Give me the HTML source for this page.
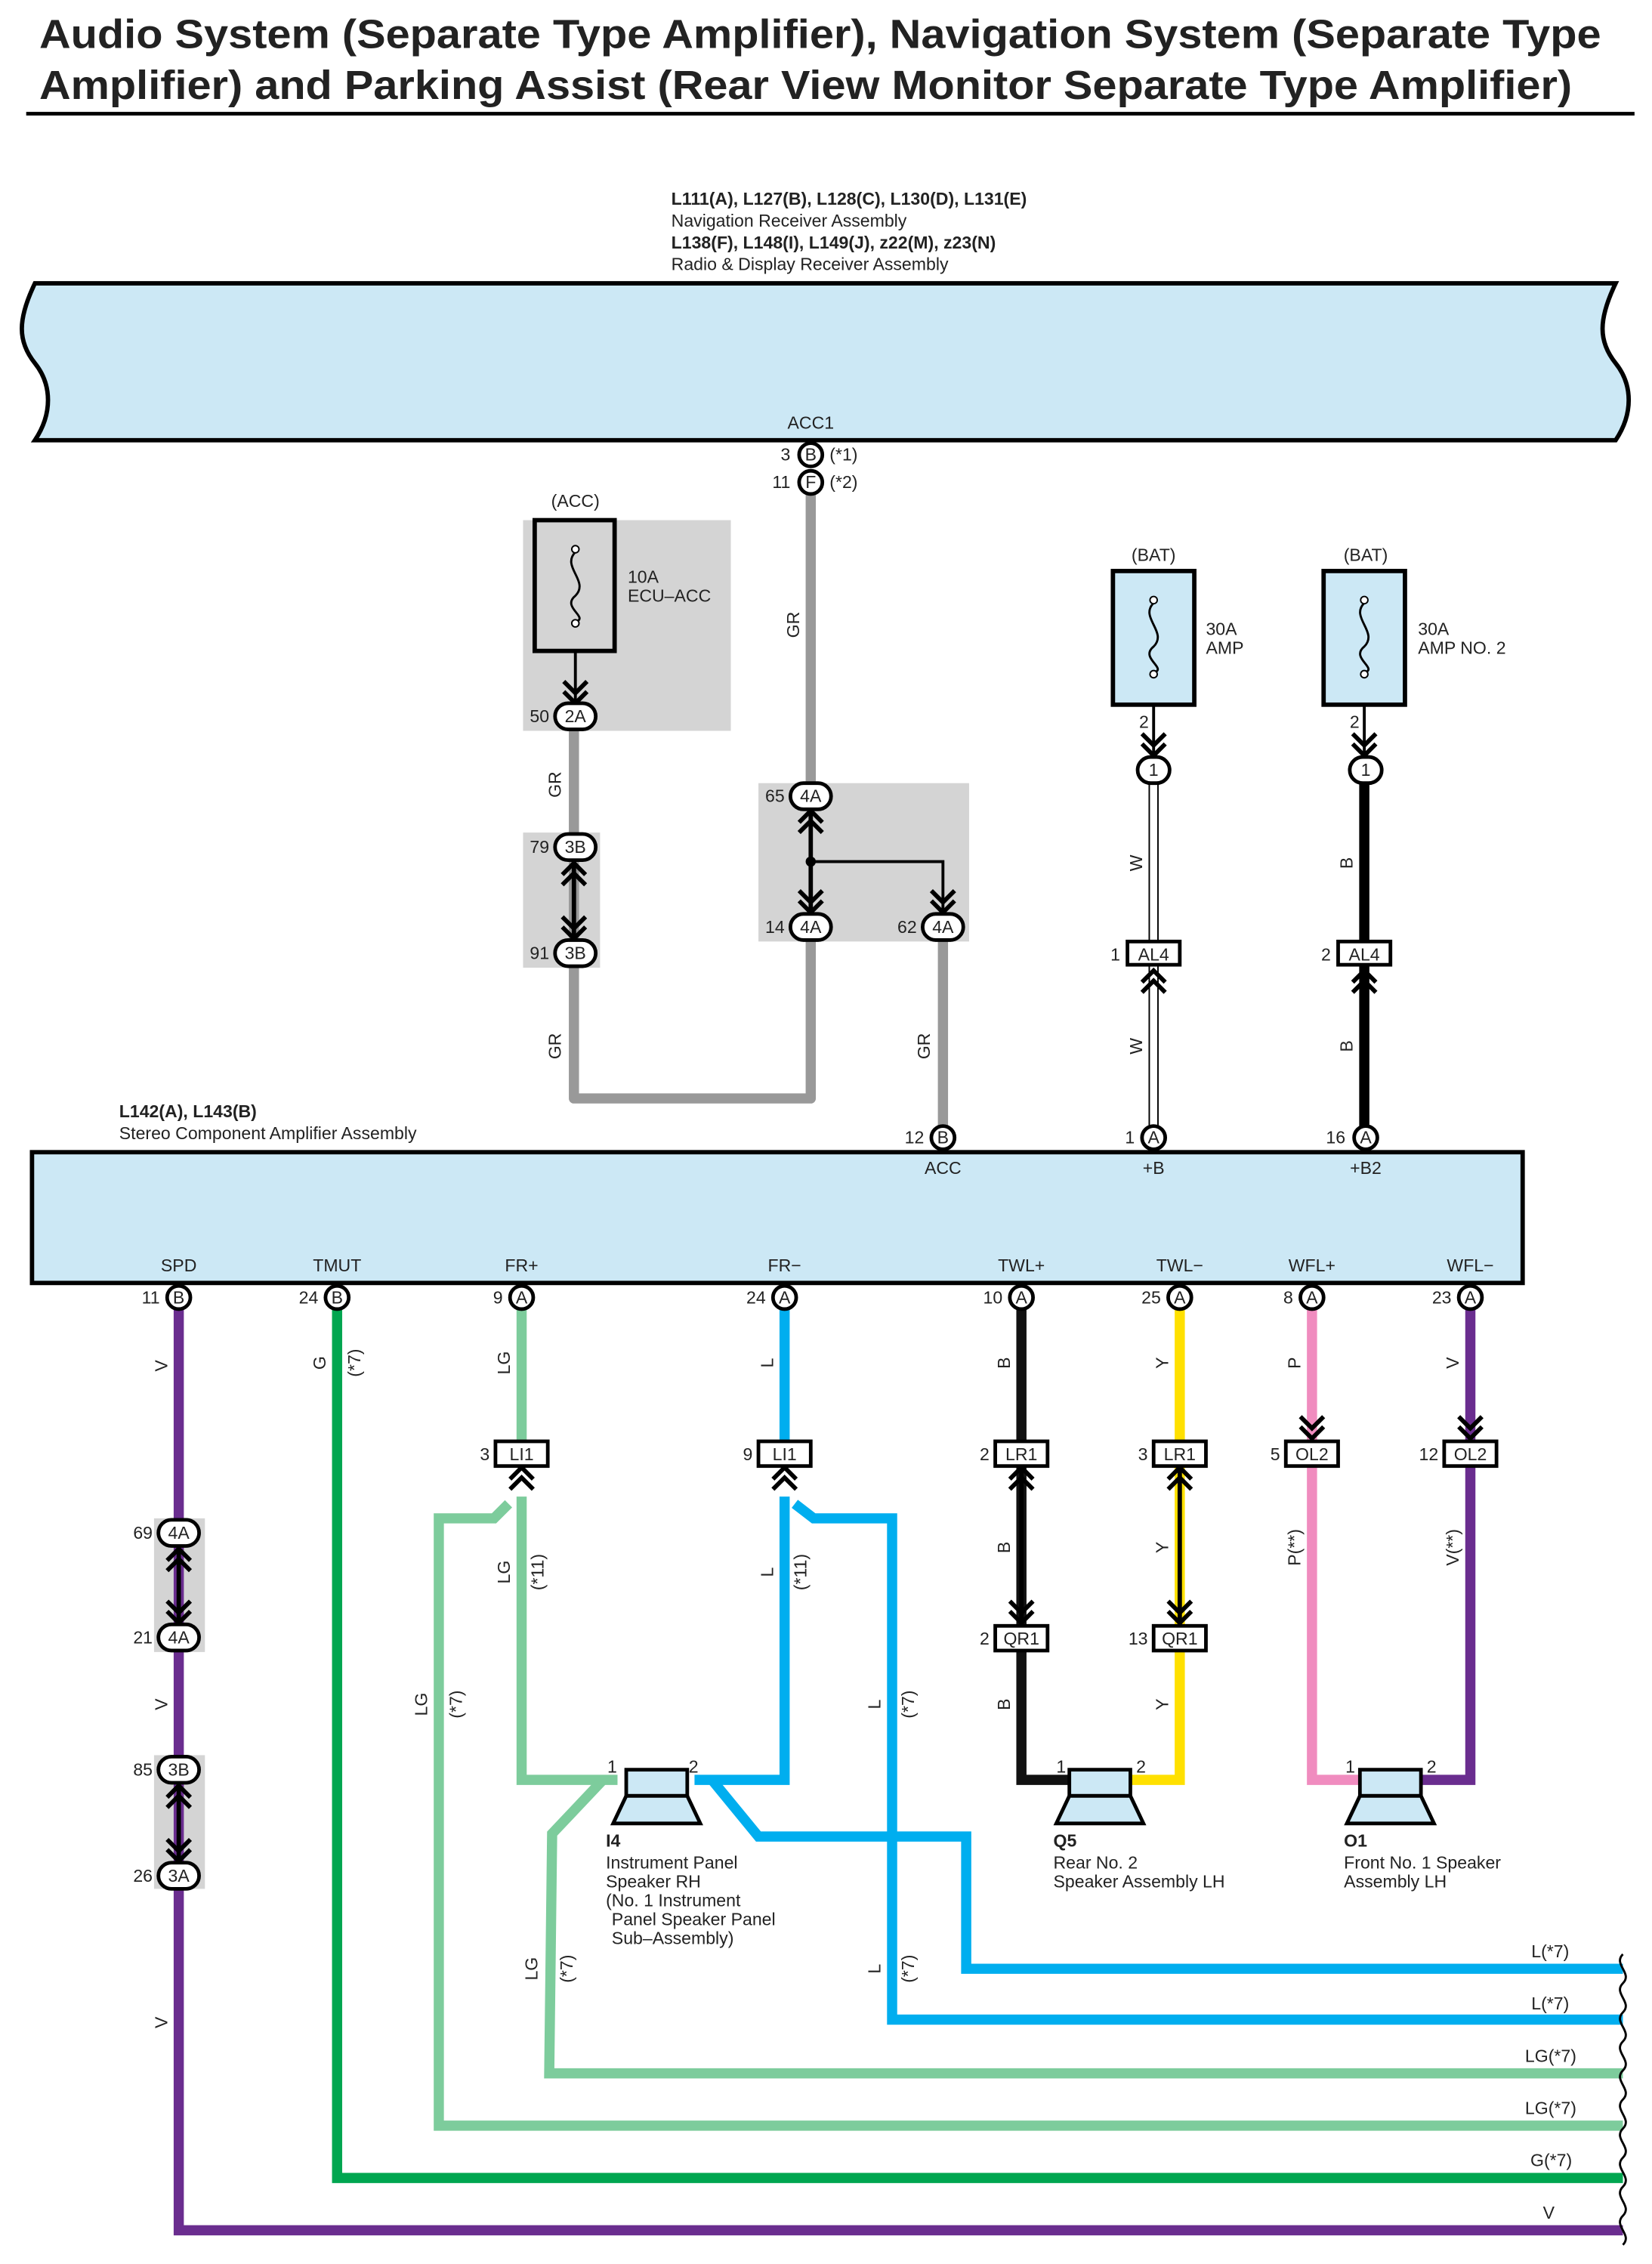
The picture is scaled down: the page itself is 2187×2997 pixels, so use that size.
<!DOCTYPE html>
<html><head><meta charset="utf-8"><style>
html,body{margin:0;padding:0;background:#fff}
svg{display:block}
text{font-family:"Liberation Sans",Arial,sans-serif;fill:#222}
</style></head><body>
<svg width="2187" height="2997" viewBox="0 0 1137 1558.2" xmlns="http://www.w3.org/2000/svg">
<defs>
<g id="chevU"><path d="M-8,8 L0,0 L8,8 M-8,15 L0,7 L8,15" fill="none" stroke="#000" stroke-width="3"/></g>
<g id="chevD"><path d="M-8,-8 L0,0 L8,-8 M-8,-15 L0,-7 L8,-15" fill="none" stroke="#000" stroke-width="3"/></g>
<g id="spk"><rect x="-21" y="-9" width="42" height="18" fill="#cce8f5" stroke="#000" stroke-width="2.5"/><path d="M-21,9 L21,9 L30,28 L-30,28 Z" fill="#cce8f5" stroke="#000" stroke-width="2.5"/></g>
</defs>
<!-- title -->
<text x="27" y="33" font-size="28" font-weight="bold" fill="#000" textLength="1075" lengthAdjust="spacingAndGlyphs">Audio System (Separate Type Amplifier), Navigation System (Separate Type</text>
<text x="27" y="68" font-size="28" font-weight="bold" fill="#000" textLength="1055" lengthAdjust="spacingAndGlyphs">Amplifier) and Parking Assist (Rear View Monitor Separate Type Amplifier)</text>
<rect x="18" y="77" width="1107" height="2.5" fill="#000"/>

<g font-size="12">
<text x="462" y="141" font-weight="bold">L111(A), L127(B), L128(C), L130(D), L131(E)</text>
<text x="462" y="156">Navigation Receiver Assembly</text>
<text x="462" y="171" font-weight="bold">L138(F), L148(I), L149(J), z22(M), z23(N)</text>
<text x="462" y="186">Radio &amp; Display Receiver Assembly</text>
</g>
<!-- top box -->
<path d="M24,195 L1112,195 C1100,220 1100,235 1112,250 C1124,265 1124,285 1112,303 L24,303 C36,285 36,265 24,250 C12,235 12,220 24,195 Z" fill="#cce8f5" stroke="#000" stroke-width="3"/>

<!-- gray backgrounds -->
<rect x="360" y="358" width="143" height="145" fill="#d4d4d4"/>
<rect x="360" y="573" width="53" height="93" fill="#d4d4d4"/>
<rect x="522" y="539" width="145" height="109" fill="#d4d4d4"/>
<rect x="106" y="1045" width="35" height="92" fill="#d4d4d4"/>
<rect x="106" y="1208" width="35" height="92" fill="#d4d4d4"/>

<!-- gray wires -->
<g fill="none" stroke="#999" stroke-width="7" stroke-linejoin="round">
<path d="M558,340 L558,540"/>
<path d="M558,646 L558,756 L395,756 L395,664"/>
<path d="M395,500 L395,575"/>
<path d="M395,590 L395,648"/>
<path d="M649,646 L649,776"/>
</g>
<path d="M558,556 L558,630" stroke="#000" stroke-width="3"/>
<path d="M558,593 L649,593 L649,628" fill="none" stroke="#000" stroke-width="2"/>
<circle cx="558" cy="593" r="3.5" fill="#000"/>
<use href="#chevU" x="558" y="558"/>
<use href="#chevD" x="558" y="628"/>
<use href="#chevD" x="649" y="628"/>
<path d="M395,593 L395,646" stroke="#000" stroke-width="3"/>
<use href="#chevU" x="395" y="594"/>
<use href="#chevD" x="395" y="646"/>

<!-- ACC fuse -->
<rect x="368" y="358" width="55" height="90" fill="none" stroke="#000" stroke-width="3"/>
<path d="M396,380 C386,390 406,400 396,410 C386,418 406,425 396,428" fill="none" stroke="#000" stroke-width="1.5"/>
<circle cx="396" cy="378" r="2.5" fill="#fff" stroke="#000"/><circle cx="396" cy="429" r="2.5" fill="#fff" stroke="#000"/>
<path d="M396,448 L396,482" stroke="#000" stroke-width="2"/><use href="#chevD" x="396" y="484"/>
<!-- BAT fuses -->
<rect x="766" y="393" width="56" height="92" fill="#cce8f5" stroke="#000" stroke-width="3"/>
<path d="M794,415 C784,425 804,435 794,445 C784,453 804,460 794,463" fill="none" stroke="#000" stroke-width="1.5"/>
<circle cx="794" cy="413" r="2.5" fill="#fff" stroke="#000"/><circle cx="794" cy="464" r="2.5" fill="#fff" stroke="#000"/>
<rect x="911" y="393" width="56" height="92" fill="#cce8f5" stroke="#000" stroke-width="3"/>
<path d="M939,415 C929,425 949,435 939,445 C929,453 949,460 939,463" fill="none" stroke="#000" stroke-width="1.5"/>
<circle cx="939" cy="413" r="2.5" fill="#fff" stroke="#000"/><circle cx="939" cy="464" r="2.5" fill="#fff" stroke="#000"/>
<path d="M794,485 L794,518" stroke="#000" stroke-width="2"/><use href="#chevD" x="794" y="520"/>
<path d="M939,485 L939,518" stroke="#000" stroke-width="2"/><use href="#chevD" x="939" y="520"/>
<!-- W wire -->
<path d="M794,538 L794,648 M794,664 L794,776" stroke="#000" stroke-width="7"/>
<path d="M794,538 L794,648 M794,664 L794,776" stroke="#fff" stroke-width="5"/>
<use href="#chevU" x="794" y="668"/>
<!-- B wire -->
<path d="M939,538 L939,648 M939,664 L939,776" stroke="#000" stroke-width="7"/>
<use href="#chevU" x="939" y="668"/>

<!-- amp box -->
<g font-size="12">
<text x="82" y="769" font-weight="bold">L142(A), L143(B)</text>
<text x="82" y="784">Stereo Component Amplifier Assembly</text>
</g>
<rect x="22" y="793" width="1026" height="90" fill="#cce8f5" stroke="#000" stroke-width="3"/>

<!-- lower wires -->
<g fill="none" stroke-linejoin="miter" stroke-width="7">
<path d="M123,900 L123,1535 L1117,1535" stroke="#6a2d8f"/>
<path d="M232,900 L232,1499 L1117,1499" stroke="#00a650"/>
<path d="M359,900 L359,992" stroke="#7dcc9c"/>
<path d="M359,1030 L359,1225 L425,1225" stroke="#7dcc9c"/>
<path d="M350,1035 L340,1045 L302,1045 L302,1463 L1117,1463" stroke="#7dcc9c"/>
<path d="M415,1225 L380,1262 L378,1427 L1117,1427" stroke="#7dcc9c"/>
<path d="M540,900 L540,992" stroke="#00aeef"/>
<path d="M540,1030 L540,1225 L478,1225" stroke="#00aeef"/>
<path d="M547,1035 L560,1045 L614,1045 L614,1390 L1117,1390" stroke="#00aeef"/>
<path d="M490,1225 L522,1264 L665,1264 L665,1355 L1117,1355" stroke="#00aeef"/>
<path d="M703,900 L703,992 M703,1010 L703,1119 M703,1135 L703,1225 L740,1225" stroke="#111"/>
<path d="M812,900 L812,992 M812,1010 L812,1119 M812,1135 L812,1225 L775,1225" stroke="#ffe000"/>
<path d="M903,900 L903,992 M903,1008 L903,1225 L940,1225" stroke="#f08cbf"/>
<path d="M1012,900 L1012,992 M1012,1008 L1012,1225 L975,1225" stroke="#6a2d8f"/>
</g>
<path d="M123,1062 L123,1120 M123,1225 L123,1284 M703,1010 L703,1119 M812,1010 L812,1119" stroke="#000" stroke-width="3"/>
<use href="#chevU" x="123" y="1066"/><use href="#chevD" x="123" y="1117"/>
<use href="#chevU" x="123" y="1229"/><use href="#chevD" x="123" y="1281"/>
<use href="#chevU" x="359" y="1010"/><use href="#chevU" x="540" y="1010"/>
<use href="#chevU" x="703" y="1010"/><use href="#chevU" x="812" y="1010"/>
<use href="#chevD" x="703" y="1117"/><use href="#chevD" x="812" y="1117"/>
<use href="#chevD" x="903" y="990"/><use href="#chevD" x="1012" y="990"/>

<!-- right wavy ends -->
<g fill="none" stroke="#000" stroke-width="1.5">
<path d="M1117,1345 C1110,1352 1124,1358 1117,1365 C1110,1372 1124,1378 1117,1385 C1110,1392 1124,1398 1117,1405 C1110,1412 1124,1418 1117,1425 C1110,1432 1124,1438 1117,1445 C1110,1452 1124,1458 1117,1465 C1110,1472 1124,1478 1117,1485 C1110,1492 1124,1498 1117,1505 C1110,1512 1124,1518 1117,1525 C1110,1532 1124,1538 1117,1545"/>
</g>

<!-- speakers -->
<use href="#spk" x="452" y="1227"/>
<use href="#spk" x="757" y="1227"/>
<use href="#spk" x="957" y="1227"/>

<!-- connectors -->
<g font-size="12" text-anchor="middle" stroke-width="2.5">
<g fill="#fff" stroke="#000">
<circle cx="558" cy="313" r="8"/><circle cx="558" cy="332" r="8"/>
<circle cx="649" cy="783" r="8"/><circle cx="794" cy="783" r="8"/><circle cx="940" cy="783" r="8"/>
<circle cx="123" cy="893" r="8"/><circle cx="232" cy="893" r="8"/><circle cx="359" cy="893" r="8"/><circle cx="540" cy="893" r="8"/>
<circle cx="703" cy="893" r="8"/><circle cx="812" cy="893" r="8"/><circle cx="903" cy="893" r="8"/><circle cx="1012" cy="893" r="8"/>
<rect x="382" y="484" width="28" height="18" rx="9"/>
<rect x="382" y="574" width="28" height="18" rx="9"/><rect x="382" y="647" width="28" height="18" rx="9"/>
<rect x="544" y="539" width="28" height="18" rx="9"/><rect x="544" y="629" width="28" height="18" rx="9"/><rect x="635" y="629" width="28" height="18" rx="9"/>
<rect x="783" y="521" width="22" height="18" rx="9"/><rect x="929" y="521" width="22" height="18" rx="9"/>
<rect x="109" y="1046" width="28" height="18" rx="9"/><rect x="109" y="1118" width="28" height="18" rx="9"/>
<rect x="109" y="1209" width="28" height="18" rx="9"/><rect x="109" y="1282" width="28" height="18" rx="9"/>
<rect x="776" y="648" width="36" height="16"/><rect x="921" y="648" width="36" height="16"/>
<rect x="341" y="992" width="36" height="17"/><rect x="522" y="992" width="36" height="17"/>
<rect x="685" y="992" width="36" height="17"/><rect x="794" y="992" width="36" height="17"/>
<rect x="885" y="992" width="36" height="17"/><rect x="994" y="992" width="36" height="17"/>
<rect x="685" y="1119" width="36" height="17"/><rect x="794" y="1119" width="36" height="17"/>
</g>
<g stroke="none">
<text x="558" y="317">B</text><text x="558" y="336">F</text>
<text x="649" y="787">B</text><text x="794" y="787">A</text><text x="940" y="787">A</text>
<text x="123" y="897">B</text><text x="232" y="897">B</text><text x="359" y="897">A</text><text x="540" y="897">A</text>
<text x="703" y="897">A</text><text x="812" y="897">A</text><text x="903" y="897">A</text><text x="1012" y="897">A</text>
<text x="396" y="497">2A</text><text x="396" y="587">3B</text><text x="396" y="660">3B</text>
<text x="558" y="552">4A</text><text x="558" y="642">4A</text><text x="649" y="642">4A</text>
<text x="794" y="534">1</text><text x="940" y="534">1</text>
<text x="123" y="1059">4A</text><text x="123" y="1131">4A</text><text x="123" y="1222">3B</text><text x="123" y="1295">3A</text>
<text x="794" y="661">AL4</text><text x="939" y="661">AL4</text>
<text x="359" y="1005">LI1</text><text x="540" y="1005">LI1</text><text x="703" y="1005">LR1</text><text x="812" y="1005">LR1</text>
<text x="903" y="1005">OL2</text><text x="1012" y="1005">OL2</text><text x="703" y="1132">QR1</text><text x="812" y="1132">QR1</text>
</g>
</g>

<!-- misc labels -->
<g font-size="12">
<text x="558" y="295" text-anchor="middle">ACC1</text>
<text x="544" y="317" text-anchor="end">3</text><text x="571" y="317">(*1)</text>
<text x="544" y="336" text-anchor="end">11</text><text x="571" y="336">(*2)</text>
<text x="396" y="349" text-anchor="middle">(ACC)</text>
<text x="432" y="401">10A</text><text x="432" y="414">ECU–ACC</text>
<text x="378" y="497" text-anchor="end">50</text>
<text x="378" y="587" text-anchor="end">79</text><text x="378" y="660" text-anchor="end">91</text>
<text x="540" y="552" text-anchor="end">65</text><text x="540" y="642" text-anchor="end">14</text><text x="631" y="642" text-anchor="end">62</text>
<text x="794" y="386" text-anchor="middle">(BAT)</text><text x="940" y="386" text-anchor="middle">(BAT)</text>
<text x="830" y="437">30A</text><text x="830" y="450">AMP</text>
<text x="976" y="437">30A</text><text x="976" y="450">AMP NO. 2</text>
<text x="784" y="501">2</text><text x="929" y="501">2</text>
<text x="771" y="661" text-anchor="end">1</text><text x="916" y="661" text-anchor="end">2</text>
<text x="636" y="787" text-anchor="end">12</text><text x="781" y="787" text-anchor="end">1</text><text x="926" y="787" text-anchor="end">16</text>
<text x="649" y="808" text-anchor="middle">ACC</text><text x="794" y="808" text-anchor="middle">+B</text><text x="940" y="808" text-anchor="middle">+B2</text>
<g text-anchor="middle">
<text x="123" y="875">SPD</text><text x="232" y="875">TMUT</text><text x="359" y="875">FR+</text><text x="540" y="875">FR−</text>
<text x="703" y="875">TWL+</text><text x="812" y="875">TWL−</text><text x="903" y="875">WFL+</text><text x="1012" y="875">WFL−</text>
</g>
<g text-anchor="end">
<text x="110" y="897">11</text><text x="219" y="897">24</text><text x="346" y="897">9</text><text x="527" y="897">24</text>
<text x="690" y="897">10</text><text x="799" y="897">25</text><text x="890" y="897">8</text><text x="999" y="897">23</text>
<text x="105" y="1059">69</text><text x="105" y="1131">21</text><text x="105" y="1222">85</text><text x="105" y="1295">26</text>
<text x="337" y="1005">3</text><text x="518" y="1005">9</text><text x="681" y="1005">2</text><text x="790" y="1005">3</text>
<text x="881" y="1005">5</text><text x="990" y="1005">12</text><text x="681" y="1132">2</text><text x="790" y="1132">13</text>
</g>
<text x="418" y="1220">1</text><text x="474" y="1220">2</text>
<text x="727" y="1220">1</text><text x="782" y="1220">2</text>
<text x="926" y="1220">1</text><text x="982" y="1220">2</text>
<text x="417" y="1271" font-weight="bold">I4</text>
<text x="417" y="1286">Instrument Panel</text><text x="417" y="1299">Speaker RH</text>
<text x="417" y="1312">(No.  1 Instrument</text><text x="421" y="1325">Panel Speaker Panel</text><text x="421" y="1338">Sub–Assembly)</text>
<text x="725" y="1271" font-weight="bold">Q5</text>
<text x="725" y="1286">Rear No.  2</text><text x="725" y="1299">Speaker Assembly LH</text>
<text x="925" y="1271" font-weight="bold">O1</text>
<text x="925" y="1286">Front No.  1 Speaker</text><text x="925" y="1299">Assembly LH</text>
<g text-anchor="end">
<text x="1080" y="1347">L(*7)</text><text x="1080" y="1383">L(*7)</text><text x="1085" y="1419">LG(*7)</text>
<text x="1085" y="1455">LG(*7)</text><text x="1082" y="1491">G(*7)</text><text x="1070" y="1527">V</text>
</g>
</g>

<!-- rotated wire labels -->
<g font-size="12" text-anchor="middle">
<text transform="translate(550,430) rotate(-90)">GR</text>
<text transform="translate(386,540) rotate(-90)">GR</text>
<text transform="translate(386,720) rotate(-90)">GR</text>
<text transform="translate(640,720) rotate(-90)">GR</text>
<text transform="translate(786,594) rotate(-90)">W</text>
<text transform="translate(786,720) rotate(-90)">W</text>
<text transform="translate(931,594) rotate(-90)">B</text>
<text transform="translate(931,720) rotate(-90)">B</text>
<text transform="translate(115,940) rotate(-90)">V</text>
<text transform="translate(115,1173) rotate(-90)">V</text>
<text transform="translate(115,1392) rotate(-90)">V</text>
<text transform="translate(224,938) rotate(-90)">G</text>
<text transform="translate(248,938) rotate(-90)">(*7)</text>
<text transform="translate(351,938) rotate(-90)">LG</text>
<text transform="translate(532,938) rotate(-90)">L</text>
<text transform="translate(695,938) rotate(-90)">B</text>
<text transform="translate(804,938) rotate(-90)">Y</text>
<text transform="translate(895,938) rotate(-90)">P</text>
<text transform="translate(1004,938) rotate(-90)">V</text>
<text transform="translate(351,1082) rotate(-90)">LG</text>
<text transform="translate(374,1082) rotate(-90)">(*11)</text>
<text transform="translate(532,1082) rotate(-90)">L</text>
<text transform="translate(555,1082) rotate(-90)">(*11)</text>
<text transform="translate(695,1065) rotate(-90)">B</text>
<text transform="translate(804,1065) rotate(-90)">Y</text>
<text transform="translate(695,1173) rotate(-90)">B</text>
<text transform="translate(804,1173) rotate(-90)">Y</text>
<text transform="translate(895,1065) rotate(-90)">P(**)</text>
<text transform="translate(1004,1065) rotate(-90)">V(**)</text>
<text transform="translate(294,1173) rotate(-90)">LG</text>
<text transform="translate(318,1173) rotate(-90)">(*7)</text>
<text transform="translate(606,1173) rotate(-90)">L</text>
<text transform="translate(629,1173) rotate(-90)">(*7)</text>
<text transform="translate(370,1355) rotate(-90)">LG</text>
<text transform="translate(394,1355) rotate(-90)">(*7)</text>
<text transform="translate(606,1355) rotate(-90)">L</text>
<text transform="translate(629,1355) rotate(-90)">(*7)</text>
</g>
</svg>
</body></html>
